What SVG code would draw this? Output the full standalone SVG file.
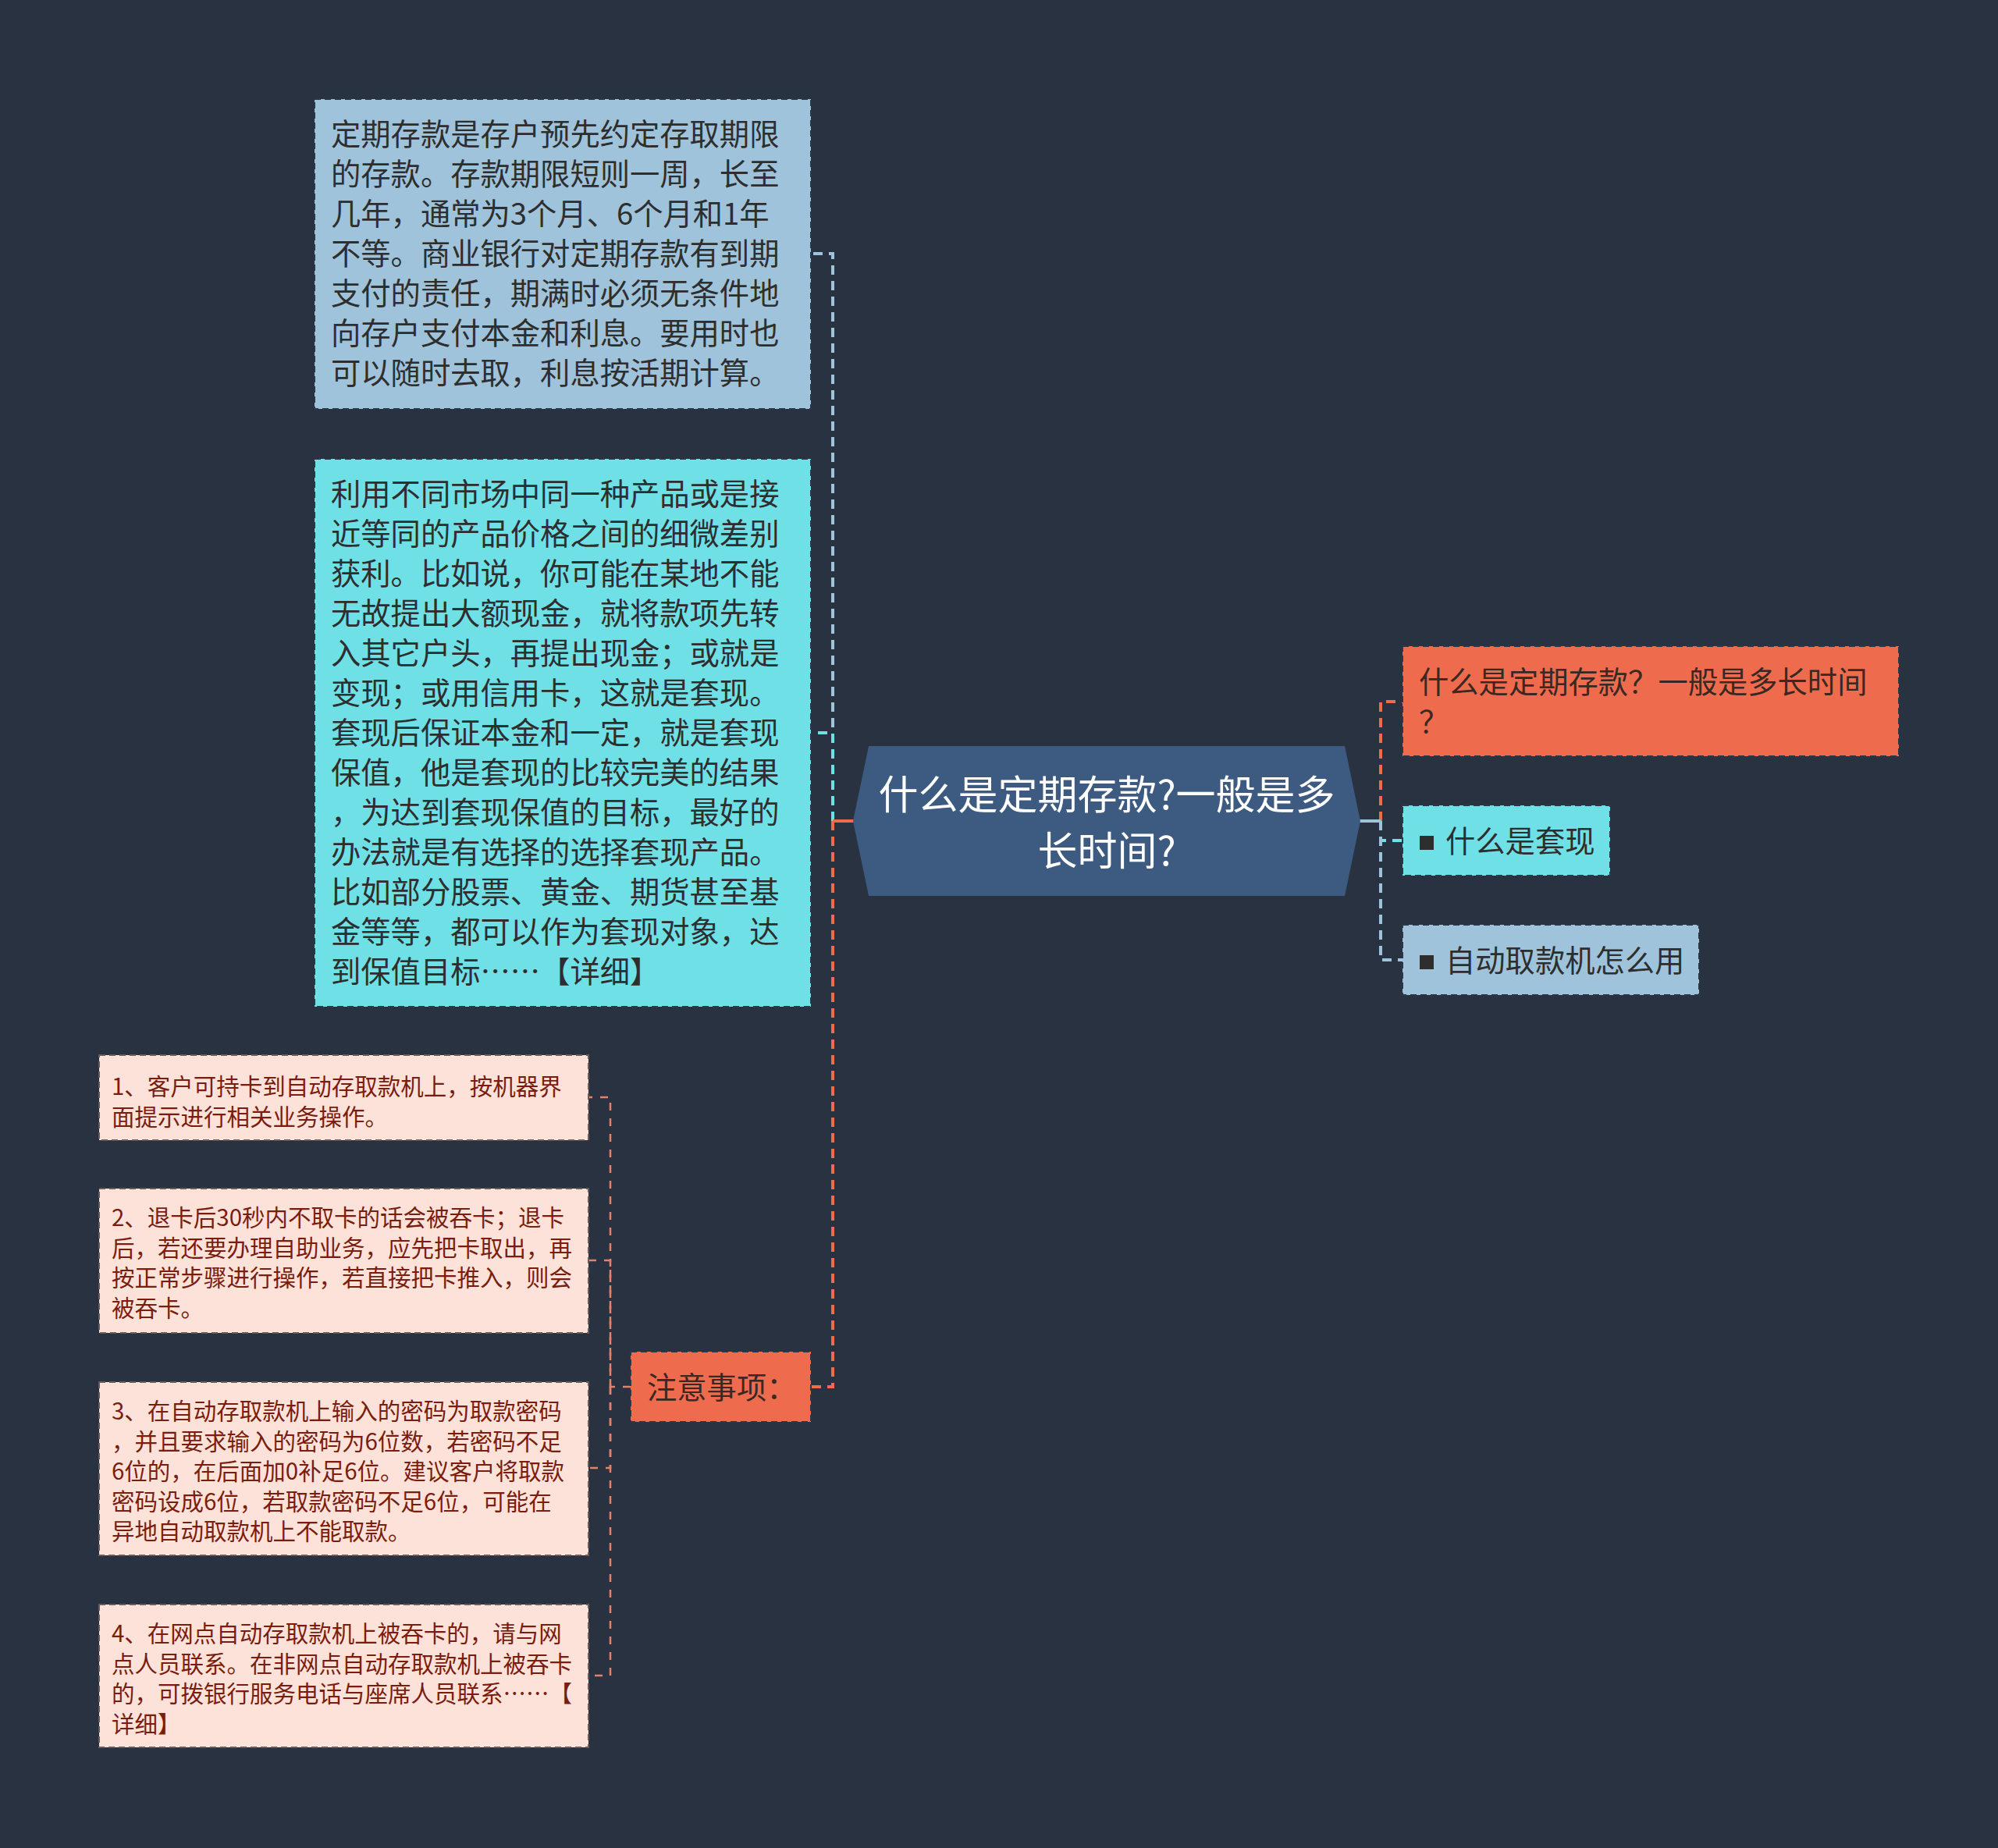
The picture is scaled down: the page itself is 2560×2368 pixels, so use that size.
<svg xmlns="http://www.w3.org/2000/svg" width="2560" height="2368" viewBox="0 0 2560 2368">
<style>
text{font-family:"Noto Sans CJK SC","Noto Sans",sans-serif}
.t38{font-size:38.3px;fill:#2e2e2e}
.t30{font-size:29.5px;fill:#7a1d0e}
.tr{font-size:38.3px;fill:#3a2822}
.root{font-size:51px;fill:#ffffff}
.bd{stroke:#2b3747;stroke-width:2;stroke-dasharray:8 5}
.lbd{stroke:#6b5a57;stroke-width:2;stroke-dasharray:8 5}
.c{fill:none;stroke-width:4;stroke-dasharray:12 8}
.cs{fill:none;stroke-width:4}
.lc{fill:none;stroke:#e0826c;stroke-width:2.5;stroke-dasharray:10 10}
</style>
<rect width="2560" height="2368" fill="#293241"/>

<g id="connectors">
  <path class="c" stroke="#9ec3da" d="M1067,1052 V325 H1040"/>
  <path class="c" stroke="#6ee0e6" d="M1067,1052 V939 H1040"/>
  <path class="c" stroke="#ee6c4d" d="M1067,1052 V1777 H1040"/>
  <path class="cs" stroke="#ee6c4d" d="M1095,1052 H1067"/>
  <path class="c" stroke="#ee6c4d" d="M1769,1052 V899 H1797"/>
  <path class="c" stroke="#6ee0e6" d="M1769,1052 V1077 H1797"/>
  <path class="c" stroke="#9ec3da" d="M1769,1052 V1230 H1797"/>
  <path class="cs" stroke="#9ec3da" d="M1742,1052 H1769"/>
  <path class="lc" d="M808,1777 H782 V1406 H754"/>
  <path class="lc" d="M782,1777 V1615 H754"/>
  <path class="lc" d="M782,1777 V1881 H754"/>
  <path class="lc" d="M782,1777 V2147 H754"/>
</g>

<g id="root">
  <polygon points="1113,956 1723,956 1743,1052 1723,1148 1113,1148 1093,1052" fill="#3d5a80"/>
  <text class="root" text-anchor="middle"><tspan x="1418" y="1037">什么是定期存款?一般是多</tspan><tspan x="1418" y="1109">长时间?</tspan></text>
</g>

<g id="node-dingqi">
  <rect class="bd" x="403" y="127" width="636" height="397" fill="#9ec3da"/>
  <text class="t38">
    <tspan x="424" y="186">定期存款是存户预先约定存取期限</tspan>
    <tspan x="424" y="237">的存款。存款期限短则一周，长至</tspan>
    <tspan x="424" y="288">几年，通常为3个月、6个月和1年</tspan>
    <tspan x="424" y="339">不等。商业银行对定期存款有到期</tspan>
    <tspan x="424" y="390">支付的责任，期满时必须无条件地</tspan>
    <tspan x="424" y="441">向存户支付本金和利息。要用时也</tspan>
    <tspan x="424" y="492">可以随时去取，利息按活期计算。</tspan>
  </text>
</g>

<g id="node-taoxian">
  <rect class="bd" x="403" y="588" width="636" height="702" fill="#6ee0e6"/>
  <text class="t38">
    <tspan x="424" y="647">利用不同市场中同一种产品或是接</tspan>
    <tspan x="424" y="698">近等同的产品价格之间的细微差别</tspan>
    <tspan x="424" y="749">获利。比如说，你可能在某地不能</tspan>
    <tspan x="424" y="800">无故提出大额现金，就将款项先转</tspan>
    <tspan x="424" y="851">入其它户头，再提出现金；或就是</tspan>
    <tspan x="424" y="902">变现；或用信用卡，这就是套现。</tspan>
    <tspan x="424" y="953">套现后保证本金和一定，就是套现</tspan>
    <tspan x="424" y="1004">保值，他是套现的比较完美的结果</tspan>
    <tspan x="424" y="1055">，为达到套现保值的目标，最好的</tspan>
    <tspan x="424" y="1106">办法就是有选择的选择套现产品。</tspan>
    <tspan x="424" y="1157">比如部分股票、黄金、期货甚至基</tspan>
    <tspan x="424" y="1208">金等等，都可以作为套现对象，达</tspan>
    <tspan x="424" y="1259">到保值目标……【详细】</tspan>
  </text>
</g>

<g id="node-zhuyi">
  <rect class="bd" x="808" y="1732" width="231" height="90" fill="#ee6c4d"/>
  <text class="tr" x="829" y="1792">注意事项：</text>
</g>

<g id="leaf-1">
  <rect class="lbd" x="127" y="1352" width="627" height="109" fill="#fde2da"/>
  <text class="t30">
    <tspan x="143" y="1403">1、客户可持卡到自动存取款机上，按机器界</tspan>
    <tspan x="143" y="1441.6">面提示进行相关业务操作。</tspan>
  </text>
</g>

<g id="leaf-2">
  <rect class="lbd" x="127" y="1523" width="627" height="185" fill="#fde2da"/>
  <text class="t30">
    <tspan x="143" y="1571">2、退卡后30秒内不取卡的话会被吞卡；退卡</tspan>
    <tspan x="143" y="1609.6">后，若还要办理自助业务，应先把卡取出，再</tspan>
    <tspan x="143" y="1648.2">按正常步骤进行操作，若直接把卡推入，则会</tspan>
    <tspan x="143" y="1686.8">被吞卡。</tspan>
  </text>
</g>

<g id="leaf-3">
  <rect class="lbd" x="127" y="1771" width="627" height="222" fill="#fde2da"/>
  <text class="t30">
    <tspan x="143" y="1819">3、在自动存取款机上输入的密码为取款密码</tspan>
    <tspan x="143" y="1857.6">，并且要求输入的密码为6位数，若密码不足</tspan>
    <tspan x="143" y="1896.2">6位的，在后面加0补足6位。建议客户将取款</tspan>
    <tspan x="143" y="1934.8">密码设成6位，若取款密码不足6位，可能在</tspan>
    <tspan x="143" y="1973.4">异地自动取款机上不能取款。</tspan>
  </text>
</g>

<g id="leaf-4">
  <rect class="lbd" x="127" y="2056" width="627" height="183" fill="#fde2da"/>
  <text class="t30">
    <tspan x="143" y="2104">4、在网点自动存取款机上被吞卡的，请与网</tspan>
    <tspan x="143" y="2142.6">点人员联系。在非网点自动存取款机上被吞卡</tspan>
    <tspan x="143" y="2181.2">的，可拨银行服务电话与座席人员联系……【</tspan>
    <tspan x="143" y="2219.8">详细】</tspan>
  </text>
</g>

<g id="node-r1">
  <rect class="bd" x="1797" y="828" width="636" height="141" fill="#ee6c4d"/>
  <text class="tr">
    <tspan x="1818" y="888">什么是定期存款？一般是多长时间</tspan>
    <tspan x="1818" y="939">？</tspan>
  </text>
</g>

<g id="node-r2">
  <rect class="bd" x="1797" y="1032" width="266" height="90" fill="#6ee0e6"/>
  <rect x="1819" y="1071" width="18" height="18" fill="#2e2e2e"/>
  <text class="t38" x="1852" y="1092">什么是套现</text>
</g>

<g id="node-r3">
  <rect class="bd" x="1797" y="1185" width="380" height="90" fill="#9ec3da"/>
  <rect x="1819" y="1224" width="18" height="18" fill="#2e2e2e"/>
  <text class="t38" x="1852" y="1245">自动取款机怎么用</text>
</g>
</svg>
